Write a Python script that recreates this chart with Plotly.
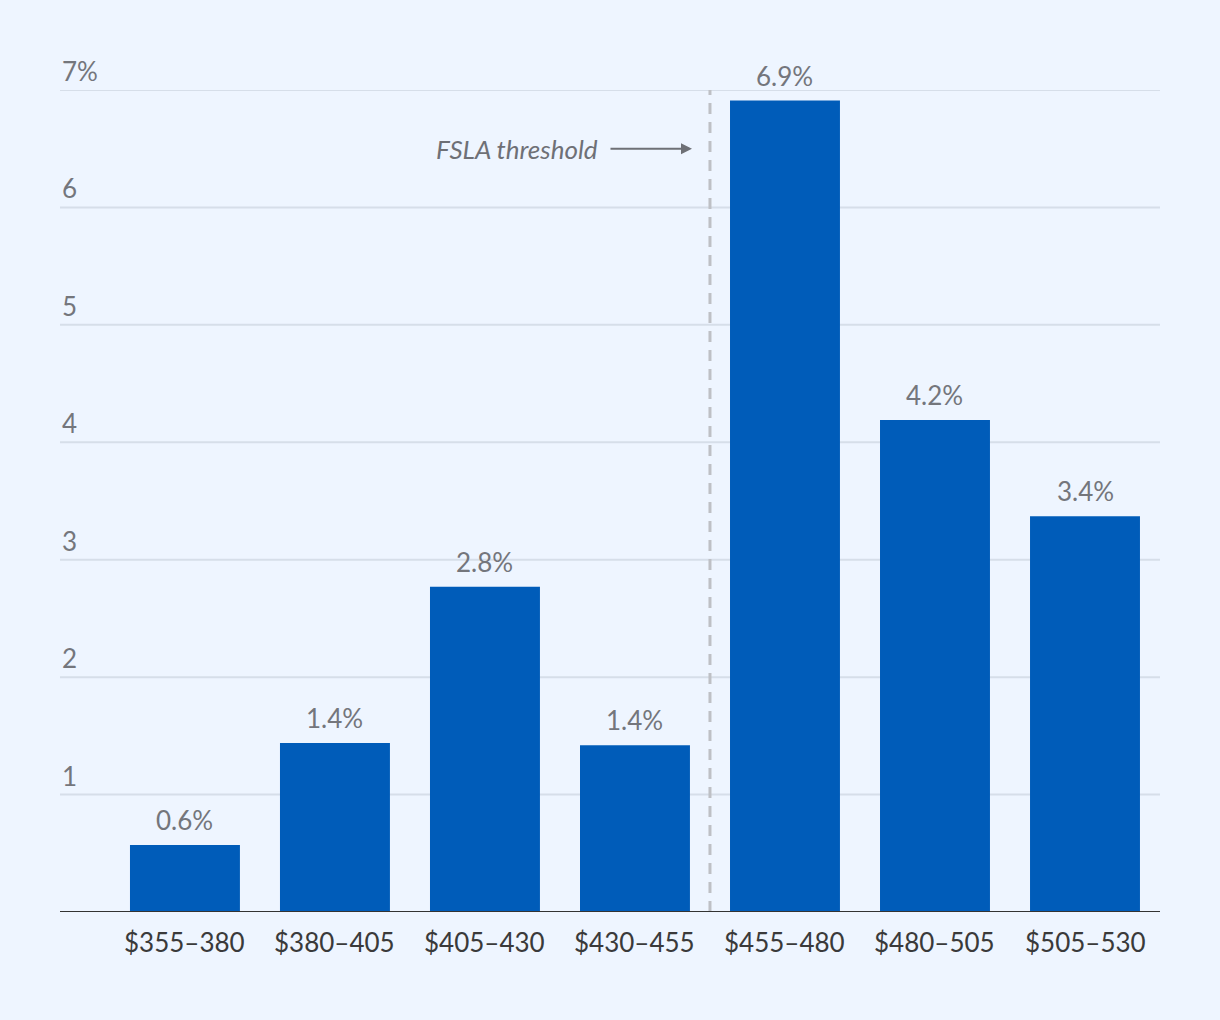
import plotly.graph_objects as go

categories = ["$355–380", "$380–405", "$405–430", "$430–455", "$455–480", "$480–505", "$505–530"]
values = [0.57, 1.44, 2.77, 1.42, 6.91, 4.19, 3.37]
value_labels = ["0.6%", "1.4%", "2.8%", "1.4%", "6.9%", "4.2%", "3.4%"]
y_ticks = [1, 2, 3, 4, 5, 6, 7]
y_tick_labels = ["1", "2", "3", "4", "5", "6", "7%"]
threshold_pos = 3.5
threshold_label = "FSLA threshold"

BG = "#EEF5FF"
BAR = "#005CB9"
GRAY = "#74767C"
FONT = "Lato, 'Source Sans Pro', sans-serif"
FS = 26

fig = go.Figure()
fig.add_trace(go.Bar(
    x=list(range(len(categories))), y=values,
    marker=dict(color=BAR, line=dict(width=0)),
    width=0.733, hoverinfo="skip",
))

shapes = []
for t in y_ticks:
    shapes.append(dict(type="line", xref="paper", yref="y", x0=0, x1=1, y0=t, y1=t,
                       line=dict(color="#D6DEE9", width=2), layer="below"))
shapes.append(dict(type="line", xref="x", yref="y", x0=threshold_pos, x1=threshold_pos,
                   y0=0, y1=7, line=dict(color="#BEC0C5", width=3, dash="11px,8px"), layer="below"))
shapes.append(dict(type="line", xref="paper", yref="y", x0=0, x1=1, y0=0, y1=0,
                   line=dict(color="#333333", width=2)))

annotations = []
for t, lab in zip(y_ticks, y_tick_labels):
    annotations.append(dict(xref="paper", yref="y", x=0, y=t, text=lab, showarrow=False,
                            xanchor="left", yanchor="bottom", yshift=1,
                            font=dict(family=FONT, size=FS, color=GRAY)))
for i, c in enumerate(categories):
    annotations.append(dict(xref="x", yref="paper", x=i, y=0, text=c, showarrow=False,
                            xanchor="center", yanchor="top", yshift=-12,
                            font=dict(family=FONT, size=FS, color="#3A3A3A")))
for i, (v, lab) in enumerate(zip(values, value_labels)):
    annotations.append(dict(xref="x", yref="y", x=i, y=v, text=lab, showarrow=False,
                            xanchor="center", yanchor="bottom", yshift=7,
                            font=dict(family=FONT, size=FS, color=GRAY)))
# arrow
annotations.append(dict(xref="x", yref="y", x=threshold_pos - 0.12, y=6.5, ax=-83, ay=0,
                        axref="pixel", ayref="pixel", text="",
                        showarrow=True, arrowhead=2, arrowsize=1.1, arrowwidth=2,
                        arrowcolor="#6E7076", standoff=0))
annotations.append(dict(xref="x", yref="y", x=threshold_pos, y=6.5, xshift=-110,
                        text="<i>" + threshold_label + "</i>", showarrow=False,
                        xanchor="right", yanchor="middle",
                        font=dict(family=FONT, size=FS, color="#6E7076")))

fig.update_layout(
    width=1220, height=1020,
    paper_bgcolor=BG, plot_bgcolor=BG,
    margin=dict(l=60, r=60, t=90, b=108),
    showlegend=False, bargap=0.267, hovermode=False,
    xaxis=dict(range=[-0.833, 6.5], showticklabels=False, showgrid=False, zeroline=False,
               showline=False, ticks=""),
    yaxis=dict(range=[0, 7], showticklabels=False, showgrid=False, zeroline=False,
               showline=False, ticks=""),
    shapes=shapes, annotations=annotations,
)

fig.write_html("out.html", config={"displayModeBar": False},
               post_script="document.body.style.margin='0';document.body.style.background='#EEF5FF';")
